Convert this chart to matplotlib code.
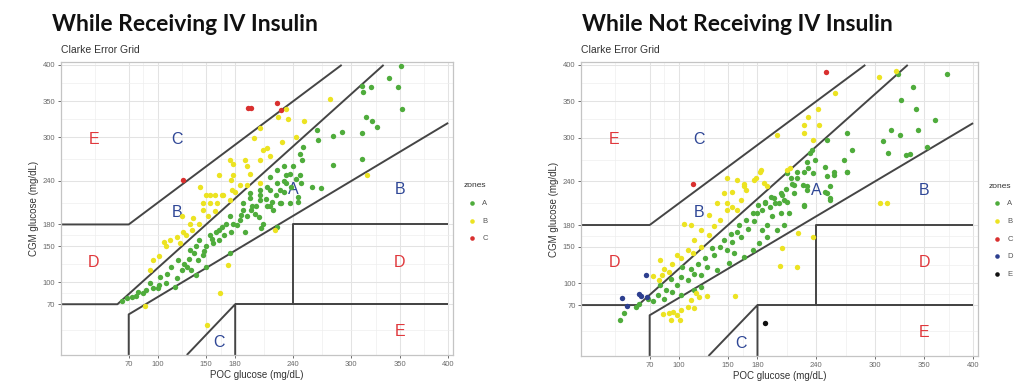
import matplotlib
matplotlib.use("Agg")
import matplotlib.pyplot as plt

# ---- data (mg/dL) ----
titles = ["While Receiving IV Insulin", "While Not Receiving IV Insulin"]
ticks = [70, 100, 150, 180, 240, 300, 350, 400]

# panel 1: while receiving IV insulin
recv_A_x = [351, 339, 348, 320, 312, 311, 352, 315, 321, 326, 311, 290, 281, 266, 264, 311, 281, 259, 269, 250,
            249, 247, 240, 237, 230, 223, 216, 213, 223, 230, 243, 245, 237, 227, 206, 195, 188, 206, 197, 216,
            63, 73, 85, 80, 95, 101, 92, 109, 120, 102, 125, 114, 130, 134, 121, 132, 142, 147, 133, 140,
            150, 157, 143, 163, 154, 168, 176, 163, 171, 182, 185, 175, 192, 200, 188, 202, 213, 209, 190, 207,
            219, 218, 226, 195, 206, 216, 226, 233, 247, 245, 248, 223, 175, 139, 118, 160, 150, 233,
            110, 127, 137, 148, 156, 166, 178, 186, 196, 205, 212, 222, 230, 238, 100, 88, 68, 78]
recv_A_y = [399, 382, 369, 370, 362, 371, 339, 328, 322, 314, 306, 308, 302, 297, 310, 270, 262, 232, 230, 287,
            269, 277, 260, 250, 260, 255, 246, 232, 237, 225, 243, 218, 209, 209, 214, 223, 209, 228, 205, 205,
            74, 80, 85, 87, 92, 97, 99, 99, 106, 108, 117, 122, 122, 117, 131, 133, 131, 138, 145, 150,
            150, 154, 159, 159, 166, 166, 170, 173, 181, 179, 186, 191, 191, 195, 200, 205, 205, 181, 170, 175,
            200, 211, 209, 216, 221, 228, 228, 237, 248, 211, 237, 177, 140, 110, 94, 170, 122, 248,
            112, 125, 140, 143, 160, 176, 180, 193, 200, 190, 215, 220, 240, 232, 92, 90, 78, 82]
recv_B_x = [278, 233, 235, 224, 251, 243, 228, 206, 199, 213, 209, 216, 206, 190, 192, 178, 175, 195, 185, 176,
            163, 144, 154, 166, 161, 147, 180, 175, 316, 206, 178, 192, 150, 159, 167, 154, 177, 159, 143, 152,
            135, 126, 120, 113, 106, 109, 123, 129, 101, 95, 92, 125, 173, 164, 151, 87, 136, 147, 133, 221]
recv_B_y = [353, 339, 326, 328, 322, 301, 294, 313, 299, 285, 283, 274, 269, 269, 260, 264, 269, 250, 234, 241,
            248, 232, 221, 221, 209, 209, 225, 214, 248, 237, 248, 234, 221, 221, 221, 209, 228, 198, 181, 191,
            172, 170, 163, 159, 156, 150, 154, 165, 136, 131, 117, 191, 124, 85, 41, 67, 189, 200, 181, 172]
recv_C_x = [193, 196, 223, 227, 126]
recv_C_y = [341, 341, 347, 338, 241]

# panel 2: while not receiving IV insulin
not_A_x = [373, 323, 339, 326, 342, 361, 316, 325, 344, 308, 313, 332, 336, 353, 271, 276, 268, 271, 251, 249,
           258, 251, 254, 249, 254, 236, 239, 231, 232, 227, 220, 214, 217, 226, 231, 210, 204, 194, 198, 188,
           181, 207, 227, 234,
           40, 44, 56, 59, 68, 73, 78, 85, 87, 93, 81, 98, 102, 109, 92, 115, 122, 112, 103, 119,
           129, 126, 136, 134, 142, 149, 146, 154, 153, 159, 161, 170, 168, 176, 180, 175, 185, 188, 193, 197,
           202, 205, 210, 209, 215, 220, 227, 237, 251, 254, 258, 271, 182, 190, 200, 207, 175, 166, 151, 139,
           122, 115, 102, 156, 163, 190, 185, 195, 204, 212, 217, 231]
not_A_y = [388, 388, 369, 352, 340, 324, 310, 304, 310, 295, 279, 276, 277, 287, 307, 283, 269, 253, 297, 260,
           249, 247, 233, 226, 214, 283, 269, 267, 258, 253, 253, 244, 235, 235, 233, 251, 224, 219, 210, 212,
           208, 214, 206, 279,
           49, 59, 67, 72, 79, 75, 84, 79, 91, 88, 98, 98, 108, 104, 106, 113, 111, 120, 122, 127,
           122, 134, 139, 148, 150, 146, 159, 157, 168, 171, 180, 175, 187, 185, 196, 196, 201, 210, 205, 217,
           210, 221, 212, 230, 237, 244, 208, 251, 224, 217, 253, 253, 155, 164, 173, 180, 146, 136, 128, 118,
           95, 91, 84, 141, 164, 180, 173, 192, 196, 196, 224, 228]
not_B_x = [304, 321, 259, 242, 232, 243, 227, 227, 237, 200, 213, 210, 184, 178, 187, 190, 166, 168, 159, 154,
           146, 149, 154, 305, 312, 149, 176, 183, 163, 139, 149, 159, 142, 136, 131, 122, 131, 112, 105, 115,
           122, 109, 114, 102, 93, 98, 81, 85, 90, 83, 80, 73, 221, 237, 205, 203, 220, 157, 129, 120,
           112, 117, 109, 102, 115, 90, 98, 92, 101, 94, 84, 166]
not_B_y = [384, 391, 362, 339, 329, 318, 318, 307, 297, 304, 259, 256, 256, 244, 238, 234, 237, 228, 242, 226,
           224, 210, 205, 210, 210, 244, 242, 253, 214, 210, 201, 201, 187, 178, 194, 173, 166, 180, 182, 159,
           150, 146, 141, 134, 127, 139, 132, 120, 116, 111, 104, 110, 169, 164, 148, 124, 122, 82, 83, 81,
           77, 86, 68, 63, 66, 59, 56, 49, 49, 60, 58, 233]
not_C_x = [250, 114]
not_C_y = [390, 236]
not_D_x = [66, 42, 47, 59, 61, 67]
not_D_y = [111, 80, 69, 85, 82, 81]
not_E_x = [188]
not_E_y = [45]

# Clarke grid boundary segments (x list, y list)
grid_lines = [
    ([0, 58.33, 333.33], [70, 70, 400]),
    ([70, 70, 400], [0, 56, 320]),
    ([0, 70, 290], [180, 180, 400]),
    ([130, 180, 180], [0, 70, 0]),
    ([180, 400], [70, 70]),
    ([400, 240, 240, 400], [180, 180, 70, 70]),
]
zone_labels = ["E", "C", "B", "D", "A", "B", "D", "C", "E"]
zone_lab_x = [34, 120, 120, 34, 240, 350, 350, 163, 350]
zone_lab_y = [297, 297, 197, 128, 228, 228, 128, 17, 32]
zone_lab_col = ["#e0383c", "#2f4796", "#2f4796", "#e0383c", "#2f4796", "#2f4796", "#e0383c", "#2f4796", "#e0383c"]

zone_colors = {"A": "#4fac3c", "B": "#ece322", "C": "#d9302f", "D": "#2d3f8f", "E": "#111111"}

panels = [
    {"A": (recv_A_x, recv_A_y), "B": (recv_B_x, recv_B_y), "C": (recv_C_x, recv_C_y)},
    {"A": (not_A_x, not_A_y), "B": (not_B_x, not_B_y), "C": (not_C_x, not_C_y),
     "D": (not_D_x, not_D_y), "E": (not_E_x, not_E_y)},
]

plt.rcParams["font.family"] = ["Liberation Sans", "DejaVu Sans"]
fig = plt.figure(figsize=(10.23, 3.87), dpi=100)

ax_rects = [[0.0596, 0.0827, 0.3832, 0.7571], [0.5680, 0.0801, 0.3880, 0.7597]]
title_x = [0.051, 0.569]
minor = [35, 85, 125, 165, 210, 270, 325, 375]

for i, rect in enumerate(ax_rects):
    ax = fig.add_axes(rect)
    ax.set_xlim(0, 405)
    ax.set_ylim(0, 404)
    ax.set_xticks(ticks)
    ax.set_yticks(ticks)
    ax.set_xticks(minor, minor=True)
    ax.set_yticks(minor, minor=True)
    ax.grid(True, which="major", color="#e3e3e3", lw=0.75)
    ax.grid(True, which="minor", color="#eeeeee", lw=0.5)
    ax.set_axisbelow(True)
    ax.tick_params(which="minor", length=0)
    ax.tick_params(which="major", length=2.5, width=0.6, color="#555555", labelsize=5.5,
                   labelcolor="#6a6a6a", pad=1.5)
    for sp in ax.spines.values():
        sp.set_color("#c4c4c4")
        sp.set_linewidth(0.9)

    for xs, ys in grid_lines:
        ax.plot(xs, ys, color="#454545", lw=1.4, solid_capstyle="butt", zorder=2)

    for lab, lx, ly, lc in zip(zone_labels, zone_lab_x, zone_lab_y, zone_lab_col):
        ax.text(lx, ly, lab, color=lc, fontsize=11.5, ha="center", va="center", zorder=3)

    for zone, (xs, ys) in panels[i].items():
        ax.scatter(xs, ys, s=15, color=zone_colors[zone], label=zone, linewidths=0, zorder=4)

    ax.set_xlabel("POC glucose (mg/dL)", fontsize=7, color="#333333", labelpad=2)
    ax.set_ylabel("CGM glucose (mg/dL)", fontsize=7, color="#333333", labelpad=3)
    ax.text(0.0, 1.025, "Clarke Error Grid", transform=ax.transAxes, fontsize=7.5,
            color="#333333", ha="left", va="bottom")

    leg = ax.legend(title="zones", loc="upper left", bbox_to_anchor=(1.02, 0.6), frameon=False,
                    fontsize=5.5, title_fontsize=6, handletextpad=0.4, labelspacing=1.35,
                    markerscale=0.85, borderaxespad=0)
    leg._legend_box.align = "left"
    for t in leg.get_texts():
        t.set_color("#555555")
    leg.get_title().set_color("#333333")

    fig.text(title_x[i], 0.965, titles[i], fontsize=16.5, fontweight="bold",
             family=["Lato", "DejaVu Sans"], ha="left", va="top", color="#111111")

fig.savefig("out.png", dpi=100, facecolor="white")
